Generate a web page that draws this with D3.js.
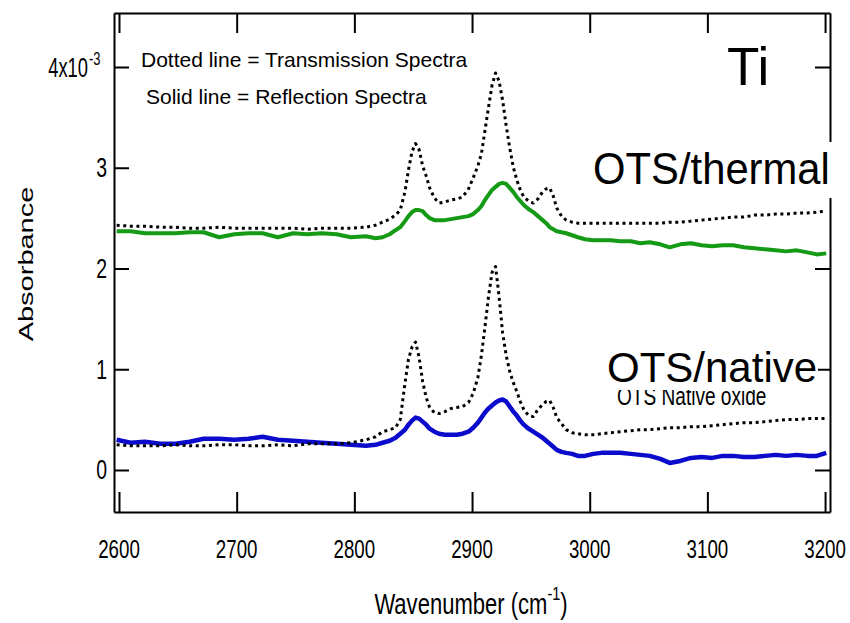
<!DOCTYPE html>
<html>
<head>
<meta charset="utf-8">
<script src="https://cdn.jsdelivr.net/npm/d3@7"></script>
<style>
  html, body { margin: 0; padding: 0; background: #fff; }
  svg { display: block; font-family: "Liberation Sans", Arial, sans-serif; }
</style>
</head>
<body>
<svg id="chart" width="850" height="623"></svg>
<script>
// Wavenumber grid (cm^-1) shared by the four spectra
const wavenumbers = [
  2598,2610,2622,2635,2648,2660,2672,2685,2698,2710,
  2722,2735,2748,2760,2772,2785,2797,2810,2818,2824,
  2830,2835,2839,2843,2846,2849,2852,2855,2858,2861,
  2864,2868,2872,2877,2882,2887,2892,2897,2901,2905,
  2908,2911,2914,2917,2920,2923,2926,2929,2932,2935,
  2938,2941,2944,2948,2952,2956,2960,2963,2966,2969,
  2972,2976,2980,2985,2990,2996,3003,3010,3018,3026,
  3035,3043,3051,3060,3068,3077,3086,3095,3104,3113,
  3122,3131,3140,3149,3158,3167,3176,3185,3193,3201
];

// Absorbance in units of 1e-3
const thermalTransmission = [
  2.43,2.42,2.42,2.41,2.41,2.40,2.40,2.41,2.40,2.40,
  2.40,2.40,2.40,2.39,2.40,2.40,2.40,2.41,2.43,2.46,
  2.49,2.53,2.58,2.76,2.98,3.16,3.24,3.18,3.02,2.92,
  2.80,2.70,2.65,2.66,2.68,2.69,2.71,2.79,2.90,3.02,
  3.14,3.37,3.60,3.82,3.94,3.86,3.67,3.42,3.20,3.01,
  2.88,2.78,2.71,2.67,2.65,2.69,2.76,2.79,2.80,2.72,
  2.60,2.52,2.48,2.46,2.45,2.45,2.45,2.45,2.45,2.45,
  2.45,2.45,2.45,2.45,2.46,2.46,2.47,2.48,2.49,2.50,
  2.51,2.51,2.53,2.53,2.54,2.54,2.55,2.55,2.56,2.57
];

const thermalReflection = [
  2.37,2.37,2.35,2.35,2.35,2.36,2.36,2.31,2.34,2.35,
  2.35,2.31,2.35,2.34,2.35,2.34,2.31,2.32,2.30,2.31,
  2.34,2.38,2.41,2.47,2.52,2.56,2.58,2.58,2.57,2.53,
  2.50,2.48,2.48,2.48,2.49,2.50,2.51,2.52,2.54,2.58,
  2.62,2.68,2.73,2.78,2.81,2.84,2.85,2.84,2.80,2.76,
  2.71,2.67,2.63,2.59,2.56,2.52,2.48,2.45,2.41,2.39,
  2.37,2.36,2.35,2.33,2.31,2.29,2.28,2.28,2.28,2.27,
  2.27,2.25,2.26,2.24,2.21,2.24,2.25,2.23,2.22,2.23,
  2.23,2.21,2.20,2.19,2.18,2.17,2.18,2.16,2.14,2.15
];

const nativeTransmission = [
  0.25,0.24,0.24,0.24,0.25,0.24,0.24,0.25,0.25,0.24,
  0.24,0.25,0.24,0.26,0.26,0.26,0.27,0.30,0.33,0.38,
  0.40,0.42,0.50,0.86,1.10,1.22,1.27,1.12,0.88,0.72,
  0.62,0.57,0.56,0.58,0.61,0.62,0.63,0.67,0.76,0.92,
  1.14,1.42,1.72,1.96,2.02,1.72,1.36,1.14,0.98,0.87,
  0.78,0.68,0.60,0.54,0.53,0.60,0.65,0.68,0.69,0.62,
  0.52,0.46,0.40,0.37,0.36,0.35,0.35,0.36,0.37,0.38,
  0.39,0.40,0.40,0.41,0.42,0.42,0.43,0.43,0.44,0.45,
  0.46,0.47,0.47,0.48,0.49,0.50,0.50,0.51,0.51,0.51
];

const nativeReflection = [
  0.30,0.27,0.28,0.26,0.26,0.28,0.31,0.31,0.30,0.31,
  0.33,0.30,0.29,0.28,0.27,0.26,0.25,0.24,0.25,0.27,
  0.29,0.32,0.36,0.40,0.45,0.49,0.52,0.51,0.48,0.45,
  0.41,0.38,0.36,0.35,0.35,0.35,0.36,0.38,0.42,0.47,
  0.52,0.57,0.61,0.64,0.67,0.69,0.70,0.68,0.63,0.58,
  0.54,0.49,0.45,0.41,0.38,0.35,0.32,0.29,0.26,0.23,
  0.20,0.18,0.17,0.16,0.14,0.14,0.16,0.17,0.17,0.17,
  0.16,0.15,0.14,0.11,0.07,0.09,0.12,0.13,0.12,0.14,
  0.14,0.13,0.13,0.14,0.15,0.14,0.15,0.14,0.14,0.17
];

const xTicks = [2600, 2700, 2800, 2900, 3000, 3100, 3200];
const yTicks = [0, 1, 2, 3, 4];

// Frame of the plot area
const frame = { left: 114, right: 830, top: 13, bottom: 512 };

const svg = d3.select("#chart");

const x = d3.scaleLinear().domain([2595.75, 3204.2]).range([frame.left, frame.right]);
const y = d3.scaleLinear().domain([-0.417, 4.536]).range([frame.bottom, frame.top]);

// Clip for the spectra
svg.append("defs").append("clipPath").attr("id", "plotClip")
  .append("rect")
  .attr("x", frame.left).attr("y", frame.top)
  .attr("width", frame.right - frame.left).attr("height", frame.bottom - frame.top);

// Axes on all four sides, ticks pointing inward
function styleAxis(g) {
  g.select(".domain").attr("stroke", "#000").attr("stroke-width", 2);
  g.selectAll(".tick line").attr("stroke", "#000").attr("stroke-width", 2);
  g.selectAll(".tick text").remove();
}
svg.append("g").attr("transform", `translate(0,${frame.bottom})`)
  .call(d3.axisBottom(x).tickValues(xTicks).tickSizeInner(-20).tickSizeOuter(0).tickFormat(""))
  .call(styleAxis);
svg.append("g").attr("transform", `translate(0,${frame.top})`)
  .call(d3.axisTop(x).tickValues(xTicks).tickSizeInner(-20).tickSizeOuter(0).tickFormat(""))
  .call(styleAxis);
svg.append("g").attr("transform", `translate(${frame.left},0)`)
  .call(d3.axisLeft(y).tickValues(yTicks).tickSizeInner(-15).tickSizeOuter(0).tickFormat(""))
  .call(styleAxis);
svg.append("g").attr("transform", `translate(${frame.right},0)`)
  .call(d3.axisRight(y).tickValues(yTicks).tickSizeInner(-15).tickSizeOuter(0).tickFormat(""))
  .call(styleAxis);

// Condensed text helper
function condensed(parent, px, py, str, size, sx, anchor) {
  return parent.append("text")
    .attr("transform", `translate(${px},${py}) scale(${sx},1)`)
    .attr("text-anchor", anchor)
    .attr("fill", "#000")
    .style("font-size", size + "px")
    .text(str);
}

// X tick labels
const labels = svg.append("g");
xTicks.forEach(t => condensed(labels, x(t), 558, String(t), 26, 0.72, "middle"));

// Y tick labels
yTicks.filter(t => t < 4).forEach(t => condensed(labels, 107, y(t) + 9.5, String(t), 27, 0.72, "end"));
const topLabel = condensed(labels, 88, y(4) + 10, "4x10", 27, 0.68, "end");
condensed(labels, 89, y(4) - 2, "-3", 18, 0.72, "start");

// Axis titles
const xt = svg.append("text")
  .attr("transform", "translate(471,614) scale(0.76,1)")
  .attr("text-anchor", "middle")
  .style("font-size", "29px");
xt.append("tspan").text("Wavenumber (cm");
xt.append("tspan").attr("dy", -14).style("font-size", "19px").text("-1");
xt.append("tspan").attr("dy", 14).text(")");

svg.append("text")
  .attr("transform", "translate(33,264) scale(0.72,1) rotate(-90)")
  .attr("text-anchor", "middle")
  .style("font-size", "29px")
  .text("Absorbance");

// Spectra
const line = d3.line()
  .x((d, i) => x(wavenumbers[i]))
  .y(d => y(d));

const plot = svg.append("g").attr("clip-path", "url(#plotClip)");

const series = [
  { values: thermalReflection, color: "#149a14", width: 4, dash: null },
  { values: nativeReflection, color: "#0b0bcc", width: 4.5, dash: null },
  { values: thermalTransmission, color: "#000", width: 3, dash: "3,3.6" },
  { values: nativeTransmission, color: "#000", width: 3, dash: "3,3.6" }
];
series.forEach(s => {
  plot.append("path")
    .datum(s.values)
    .attr("d", line)
    .attr("fill", "none")
    .attr("stroke", s.color)
    .attr("stroke-width", s.width)
    .attr("stroke-linejoin", "round")
    .attr("stroke-dasharray", s.dash);
});

// Original sample caption, partly hidden by the overlay label
condensed(svg, 617, 405, "OTS Native oxide", 26.5, 0.72, "start");

// Legend notes
svg.append("text").attr("x", 141).attr("y", 67).style("font-size", "21px").text("Dotted line = Transmission Spectra");
svg.append("text").attr("x", 146).attr("y", 104).style("font-size", "21px").text("Solid line = Reflection Spectra");

// Overlay labels on white boxes
svg.append("rect").attr("x", 588).attr("y", 142).attr("width", 250).attr("height", 56).attr("fill", "#fff");
condensed(svg, 593, 184, "OTS/thermal", 44, 0.95, "start");

svg.append("rect").attr("x", 603).attr("y", 345).attr("width", 215).attr("height", 45).attr("fill", "#fff");
condensed(svg, 607, 382, "OTS/native", 42, 1, "start");

svg.append("text").attr("x", 727).attr("y", 85).style("font-size", "53px").text("Ti");
</script>
</body>
</html>
